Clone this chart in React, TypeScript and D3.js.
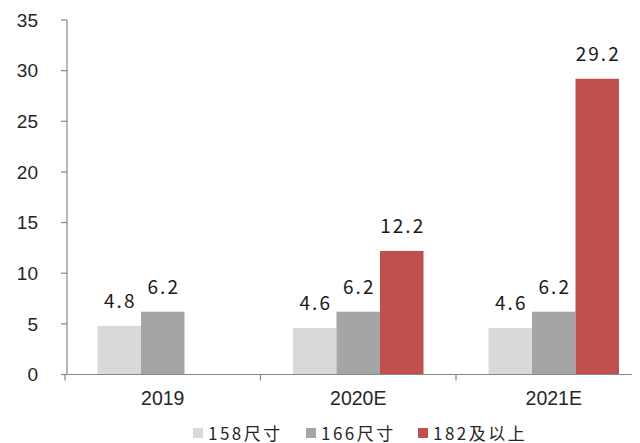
import React from "react";
import * as d3 from "d3";

const categories = ["2019", "2020E", "2021E"];
const seriesNames = ["158尺寸", "166尺寸", "182及以上"];
const series158 = [4.8, 4.6, 4.6];
const series166 = [6.2, 6.2, 6.2];
const series182: (number | null)[] = [null, 12.2, 29.2];
const yTicks = [0, 5, 10, 15, 20, 25, 30, 35];
const colors = ["#d9d9d9", "#a5a5a5", "#c0504d"];

const W = 640;
const H = 443;
const axisX = 67;
const baseY = 374.5;
const topY = 20;
const catStart = 65;
const catStep = 195.5;
const axisEnd = 632;

export default function App() {
  const seriesValues = [series158, series166, series182];
  const y = d3.scaleLinear().domain([0, 35]).range([baseY, topY]);
  const x = d3
    .scaleBand<string>()
    .domain(categories)
    .range([catStart, catStart + catStep * categories.length])
    .padding(0);
  const inner = d3
    .scaleBand<string>()
    .domain(seriesNames)
    .range([32.5, catStep - 32.5])
    .padding(0);

  const numFont = "'Noto Sans CJK SC', 'Noto Sans', sans-serif";
  const axisFont = "'Liberation Sans', Arial, sans-serif";

  const legendX = [193, 306, 418];

  return (
    <svg
      width={W}
      height={H}
      style={{ position: "absolute", left: 0, top: 0, background: "#fff" }}
    >
      {/* bars */}
      {categories.map((c, ci) =>
        seriesNames.map((s, si) => {
          const v = seriesValues[si][ci];
          if (v == null) return null;
          const bx = (x(c) as number) + (inner(s) as number);
          return (
            <rect
              key={c + s}
              x={bx}
              y={y(v)}
              width={inner.bandwidth()}
              height={baseY - y(v)}
              fill={colors[si]}
            />
          );
        })
      )}

      {/* value labels */}
      {categories.map((c, ci) =>
        seriesNames.map((s, si) => {
          const v = seriesValues[si][ci];
          if (v == null) return null;
          const cx = (x(c) as number) + (inner(s) as number) + inner.bandwidth() / 2;
          return (
            <text
              key={"l" + c + s}
              x={cx + 1}
              y={y(v) - 18}
              textAnchor="middle"
              fontFamily={numFont}
              fontSize={19}
              letterSpacing={2}
              fill="#1a1a1a"
            >
              {v.toFixed(1)}
            </text>
          );
        })
      )}

      {/* y axis */}
      <line x1={axisX} x2={axisX} y1={topY} y2={baseY} stroke="#868686" strokeWidth={1.2} />
      {yTicks.map((t) => (
        <g key={t}>
          <line x1={axisX - 6} x2={axisX} y1={y(t)} y2={y(t)} stroke="#868686" strokeWidth={1.2} />
          <text
            x={38}
            y={y(t)}
            dy="0.36em"
            textAnchor="end"
            fontFamily={axisFont}
            fontSize={19}
            fill="#262626"
          >
            {t}
          </text>
        </g>
      ))}

      {/* x axis */}
      <line x1={catStart} x2={axisEnd} y1={baseY} y2={baseY} stroke="#868686" strokeWidth={1.2} />
      {categories.map((c) => (
        <line
          key={"t" + c}
          x1={x(c) as number}
          x2={x(c) as number}
          y1={baseY}
          y2={baseY + 6}
          stroke="#868686"
          strokeWidth={1.2}
        />
      ))}
      {categories.map((c) => (
        <text
          key={"c" + c}
          x={(x(c) as number) + catStep / 2}
          y={405}
          textAnchor="middle"
          fontFamily={axisFont}
          fontSize={19.5}
          fill="#262626"
        >
          {c}
        </text>
      ))}

      {/* legend */}
      {seriesNames.map((s, i) => (
        <g key={"lg" + s}>
          <rect x={legendX[i]} y={428} width={10} height={10} fill={colors[i]} />
          <text
            x={legendX[i] + 15}
            y={439.5}
            fontFamily={numFont}
            fontSize={17}
            letterSpacing={2.5}
            fill="#262626"
          >
            {s}
          </text>
        </g>
      ))}
    </svg>
  );
}
